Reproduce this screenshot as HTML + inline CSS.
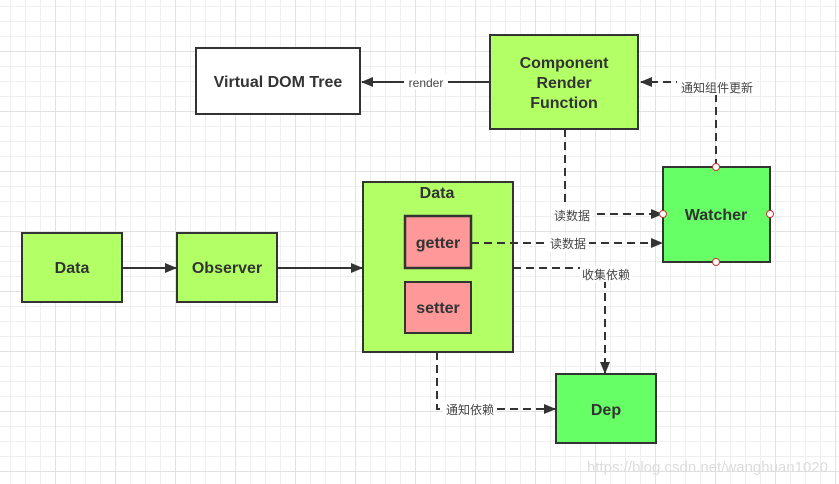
<!DOCTYPE html>
<html><head><meta charset="utf-8"><style>
html,body{margin:0;padding:0;}
body{width:839px;height:484px;overflow:hidden;background:#fff;
background-image:
linear-gradient(to right,#e2e2e2 1px,transparent 1px),
linear-gradient(to bottom,#e2e2e2 1px,transparent 1px),
linear-gradient(to right,#efefef 1px,transparent 1px),
linear-gradient(to bottom,#efefef 1px,transparent 1px);
background-size:60px 60px,60px 60px,15px 15px,15px 15px;
background-position:55px 0,0 51px,10px 0,0 6px;}
svg{position:absolute;left:0;top:0;}
text{font-family:"Liberation Sans","Noto Sans CJK SC",sans-serif;}
.b{font-weight:bold;font-size:16px;fill:#333;text-anchor:middle;}
.l{font-size:12px;fill:#444;text-anchor:middle;}
</style></head><body>
<svg width="839" height="484" viewBox="0 0 839 484">
<defs><marker id="a" markerWidth="12" markerHeight="10" refX="11" refY="5" orient="auto" markerUnits="userSpaceOnUse"><path d="M0,0 L12,5 L0,10 Z" fill="#333"/></marker></defs>
<g stroke="#333" stroke-width="2">
<rect x="196" y="48" width="164" height="66" fill="#fff"/>
<rect x="490" y="35" width="148" height="94" fill="#b3ff66"/>
<rect x="22" y="233" width="100" height="69" fill="#b3ff66"/>
<rect x="177" y="233" width="100" height="69" fill="#b3ff66"/>
<rect x="363" y="182" width="150" height="170" fill="#b3ff66"/>
<rect x="405" y="216" width="66" height="52" fill="#ff9999" stroke-width="2.5"/>
<rect x="405" y="282" width="66" height="51" fill="#ff9999"/>
<rect x="663" y="167" width="107" height="95" fill="#66ff66"/>
<rect x="556" y="374" width="100" height="69" fill="#66ff66"/>
</g>
<g stroke="#333" stroke-width="2" fill="none">
<line x1="122" y1="268" x2="176" y2="268" marker-end="url(#a)"/>
<line x1="277" y1="268" x2="362" y2="268" marker-end="url(#a)"/>
<line x1="490" y1="82" x2="362" y2="82" marker-end="url(#a)"/>
</g>
<g stroke="#333" stroke-width="2" fill="none" stroke-dasharray="8,5">
<polyline points="716,167 716,82 641,82" marker-end="url(#a)"/>
<polyline points="565,129 565,214 662,214" marker-end="url(#a)"/>
<line x1="471" y1="243" x2="662" y2="243" marker-end="url(#a)"/>
<polyline points="513,268 605,268 605,373" marker-end="url(#a)"/>
<polyline points="437,352 437,409 555,409" marker-end="url(#a)"/>
</g>
<g fill="#fff" stroke="#c33" stroke-width="1">
<circle cx="716" cy="167" r="3.5"/><circle cx="716" cy="262" r="3.5"/>
<circle cx="663" cy="214" r="3.5"/><circle cx="770" cy="214" r="3.5"/>
</g>
<g fill="#fff">
<rect x="404" y="74" width="44" height="16"/>
<rect x="677" y="79" width="80" height="16"/>
<rect x="552" y="207" width="40" height="16"/>
<rect x="547" y="235" width="42" height="16"/>
<rect x="580" y="266" width="52" height="16"/>
<rect x="443" y="401" width="52" height="16"/>
</g>
<text class="b" x="278" y="87">Virtual DOM Tree</text>
<text class="b" x="564" y="68">Component</text>
<text class="b" x="564" y="88">Render</text>
<text class="b" x="564" y="108">Function</text>
<text class="b" x="72" y="273">Data</text>
<text class="b" x="227" y="273">Observer</text>
<text class="b" x="437" y="198">Data</text>
<text class="b" x="438" y="248" font-size="14">getter</text>
<text class="b" x="438" y="313" font-size="14">setter</text>
<text class="b" x="716" y="220">Watcher</text>
<text class="b" x="606" y="415">Dep</text>
<text class="l" x="426" y="87">render</text>
<text class="l" x="717" y="92">通知组件更新</text>
<text class="l" x="572" y="220">读数据</text>
<text class="l" x="568" y="248">读数据</text>
<text class="l" x="606" y="279">收集依赖</text>
<text class="l" x="470" y="414">通知依赖</text>
<text x="828" y="472" font-size="15" fill="#dcdcdc" text-anchor="end" style="font-family:'Liberation Sans',sans-serif">https://blog.csdn.net/wanghuan1020</text>
</svg>
</body></html>
